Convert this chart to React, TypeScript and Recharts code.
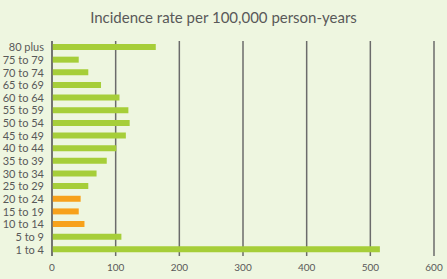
import React from "react";
import { BarChart, Bar, XAxis, YAxis, CartesianGrid, Cell } from "recharts";

const categories = [
  "80 plus", "75 to 79", "70 to 74", "65 to 69", "60 to 64", "55 to 59",
  "50 to 54", "45 to 49", "40 to 44", "35 to 39", "30 to 34", "25 to 29",
  "20 to 24", "15 to 19", "10 to 14", "5 to 9", "1 to 4",
];
const rates = [163, 42, 57, 77, 106, 120, 122, 116, 101, 86, 70, 57, 45, 42, 51, 109, 515];
const highlighted = ["20 to 24", "15 to 19", "10 to 14"];
const xTicks = [0, 100, 200, 300, 400, 500, 600];
const title = "Incidence rate per 100,000 person-years";

const GREEN = "#A6CE39";
const ORANGE = "#F7A11B";
const BG = "#EEF6E0";
const TEXT = "#595959";
const FONT = "Lato, 'Open Sans', sans-serif";

const data = categories.map((c, i) => ({ group: c, rate: rates[i] }));

const CategoryTick = (props: any) => {
  const { x, y, payload } = props;
  return (
    <text x={x} y={y} dy="0.355em" textAnchor="end" fontSize={11} fill={TEXT} fontFamily={FONT}>
      {payload.value}
    </text>
  );
};

export default function App() {
  return (
    <div style={{ position: "absolute", left: 0, top: 0, width: 447, height: 279, background: BG, fontFamily: FONT }}>
      <div style={{ position: "absolute", left: 0, top: 8, width: 447, textAlign: "center", fontSize: 15, color: TEXT }}>
        {title}
      </div>
      <BarChart
        width={447}
        height={279}
        data={data}
        layout="vertical"
        margin={{ top: 41, right: 13, bottom: 0, left: 0 }}
        barSize={6}
      >
        <CartesianGrid horizontal={false} vertical={true} stroke="#6b6b6b" strokeWidth={1.5} />
        <XAxis
          type="number"
          domain={[0, 600]}
          ticks={xTicks}
          axisLine={false}
          tickLine={false}
          height={23}
          tick={{ fontSize: 10, fill: TEXT, fontFamily: FONT }}
        />
        <YAxis
          type="category"
          dataKey="group"
          width={52}
          axisLine={{ stroke: "#6b6b6b", strokeWidth: 1.5 }}
          tickLine={false}
          interval={0}
          tick={<CategoryTick />}
        />
        <Bar dataKey="rate" isAnimationActive={false}>
          {data.map((d) => (
            <Cell key={d.group} fill={highlighted.includes(d.group) ? ORANGE : GREEN} />
          ))}
        </Bar>
      </BarChart>
    </div>
  );
}
